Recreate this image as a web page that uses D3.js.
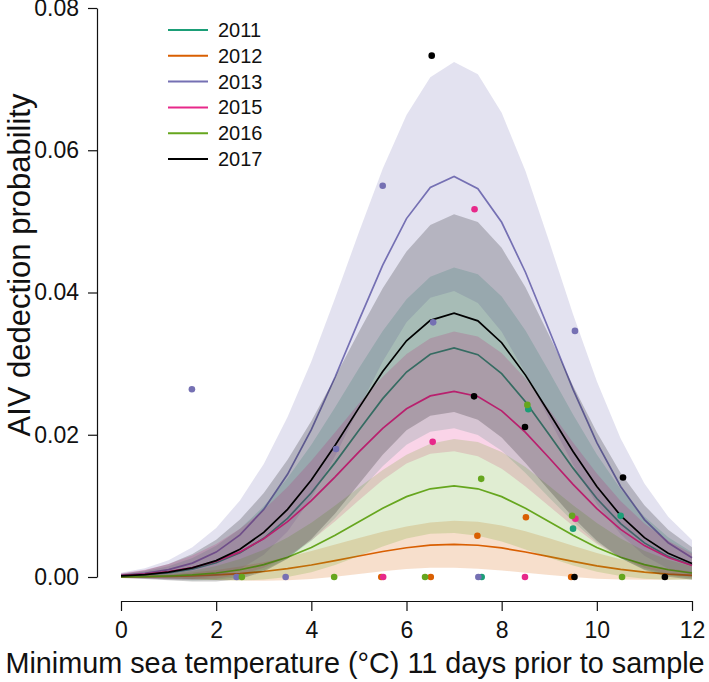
<!DOCTYPE html>
<html>
<head>
<meta charset="utf-8">
<script src="https://cdn.jsdelivr.net/npm/d3@7"></script>
<style>
  body { margin: 0; background: #fff; }
  text { font-family: "Liberation Sans", Arial, Helvetica, sans-serif; fill: #111; }
</style>
</head>
<body>
<script>
// temperature grid of the fitted curves
var temps = [0,0.5,1,1.5,2,2.5,3,3.5,4,4.5,5,5.5,6,6.5,7,7.5,8,8.5,9,9.5,10,10.5,11,11.5,12];

var years  = ["2011","2012","2013","2015","2016","2017"];
var colors = ["#1b9e77","#d95f02","#7570b3","#e7298a","#66a61e","#000000"];

// fitted probability and half width of the band, per year
var fit2011 = [0.000139,0.000295,0.000589,0.001117,0.002003,0.003394,0.005442,0.008256,0.011846,0.016081,0.02064,0.025077,0.028819,0.031318,0.0322,0.031257,0.028587,0.024636,0.020006,0.015308,0.011035,0.007496,0.004798,0.002895,0.001645];
var ci2011  = [0.000244,0.000497,0.00093,0.001568,0.00239,0.003395,0.004489,0.005651,0.006736,0.007789,0.008694,0.009506,0.010217,0.010883,0.011302,0.0113,0.010837,0.010031,0.008848,0.007522,0.006197,0.004868,0.003705,0.002693,0.001848];
var fit2012 = [0.00002,0.000042,0.000084,0.00016,0.000286,0.000485,0.000777,0.001179,0.001692,0.002297,0.002949,0.003583,0.004117,0.004474,0.0046,0.004465,0.004084,0.003519,0.002858,0.002187,0.001576,0.001071,0.000685,0.000414,0.000235];
var ci2012  = [0.000071,0.000145,0.000272,0.000458,0.000697,0.000991,0.00131,0.001649,0.001966,0.002273,0.002537,0.002774,0.002981,0.003176,0.003298,0.003297,0.003161,0.002928,0.002581,0.002195,0.001808,0.001421,0.001081,0.000787,0.000539];
var fit2013 = [0.000243,0.000515,0.00103,0.00195,0.0035,0.00593,0.00951,0.01444,0.02071,0.02812,0.03609,0.04385,0.05039,0.05476,0.0563,0.0546,0.04987,0.04285,0.03465,0.02637,0.01889,0.01273,0.00807,0.00482,0.00271];
var ci2013  = [0.000347,0.000707,0.001326,0.002231,0.003403,0.004834,0.006392,0.008053,0.009595,0.011098,0.012386,0.013544,0.014556,0.015505,0.016102,0.016085,0.015405,0.014218,0.012488,0.010559,0.008644,0.006735,0.005078,0.003653,0.00248];
var fit2015 = [0.000206,0.000402,0.000746,0.001315,0.002211,0.003531,0.005374,0.007783,0.01073,0.014078,0.017584,0.020898,0.023647,0.025463,0.0261,0.025385,0.02336,0.020327,0.01673,0.013034,0.009602,0.006692,0.004411,0.002751,0.001623];
var ci2015  = [0.000332,0.000621,0.001081,0.001694,0.002421,0.00324,0.004067,0.004887,0.005597,0.006256,0.006794,0.007267,0.00769,0.008117,0.008404,0.008419,0.008124,0.007593,0.006788,0.005876,0.004947,0.003986,0.003125,0.002347,0.001672];
var fit2016 = [0.000028,0.000065,0.000142,0.000292,0.000562,0.001019,0.001732,0.002769,0.004156,0.005862,0.007763,0.009664,0.011296,0.012403,0.0128,0.012403,0.011296,0.009664,0.007763,0.005862,0.004156,0.002769,0.001732,0.001019,0.000562];
var ci2016  = [0.000073,0.000162,0.00033,0.000603,0.000986,0.001499,0.0021,0.002786,0.003474,0.004174,0.004807,0.005386,0.005887,0.006336,0.006605,0.006592,0.006295,0.005785,0.005047,0.004235,0.003431,0.002643,0.001966,0.001393,0.000928];
var fit2017 = [0.00016,0.000339,0.000679,0.001287,0.002308,0.00391,0.00627,0.009512,0.013649,0.018528,0.023781,0.028893,0.033205,0.036083,0.0371,0.036013,0.032937,0.028385,0.02305,0.017637,0.012714,0.008637,0.005528,0.003335,0.001896];
var ci2017  = [0.0003,0.00061,0.001146,0.001931,0.002943,0.004179,0.005525,0.006956,0.008292,0.009588,0.010701,0.011702,0.012576,0.013396,0.013913,0.01391,0.01334,0.012347,0.010891,0.009259,0.007628,0.005992,0.004561,0.003314,0.002275];

// observed proportions [temperature, proportion]
var obs2011 = [[7.58,0],[8.56,0.0236],[9.5,0.0068],[10.5,0.0086]];
var obs2012 = [[5.47,0],[6.51,0],[7.49,0.0058],[8.51,0.0084],[9.46,0]];
var obs2013 = [[1.49,0.0264],[2.43,0],[3.46,0],[4.52,0.018],[5.5,0.055],[6.56,0.0358],[7.51,0],[9.54,0.0346]];
var obs2015 = [[5.51,0],[6.55,0.019],[7.43,0.0517],[8.49,0],[9.55,0.0082]];
var obs2016 = [[2.54,0],[4.48,0],[6.39,0],[7.57,0.0138],[8.54,0.0242],[9.48,0.0086],[10.53,0]];
var obs2017 = [[6.53,0.0733],[7.42,0.0254],[8.49,0.0211],[9.53,0],[10.55,0.014],[11.43,0]];

var xTicks = [0,2,4,6,8,10,12];
var yTicks = [0,0.02,0.04,0.06,0.08];

var fits = [fit2011, fit2012, fit2013, fit2015, fit2016, fit2017];
var cis  = [ci2011, ci2012, ci2013, ci2015, ci2016, ci2017];
var obs  = [obs2011, obs2012, obs2013, obs2015, obs2016, obs2017];

var width = 709, height = 682;

var svg = d3.select("body").append("svg")
    .attr("width", width)
    .attr("height", height);

var x = d3.scaleLinear().domain([0, 12]).range([121, 692]);
var y = d3.scaleLinear().domain([0, 0.08]).range([577, 8]);

var area = d3.area()
    .x(function (d) { return x(d.t); })
    .y0(function (d) { return y(d.fit - d.ci); })
    .y1(function (d) { return y(d.fit + d.ci); });

var line = d3.line()
    .x(function (d) { return x(d.t); })
    .y(function (d) { return y(d.fit); });

// band then line, year by year, so later bands tint earlier lines
years.forEach(function (yr, i) {
  var rows = temps.map(function (t, j) {
    return { t: t, fit: fits[i][j], ci: cis[i][j] };
  });
  svg.append("path")
      .datum(rows)
      .attr("d", area)
      .attr("fill", colors[i])
      .attr("fill-opacity", 0.2);
  svg.append("path")
      .datum(rows)
      .attr("d", line)
      .attr("fill", "none")
      .attr("stroke", colors[i])
      .attr("stroke-width", 1.7);
});

years.forEach(function (yr, i) {
  svg.selectAll(null)
      .data(obs[i])
      .enter()
      .append("circle")
      .attr("cx", function (d) { return x(d[0]); })
      .attr("cy", function (d) { return y(d[1]); })
      .attr("r", 3.3)
      .attr("fill", colors[i]);
});

// axes
var yAxis = svg.append("g")
    .attr("transform", "translate(97,0)")
    .call(d3.axisLeft(y).tickValues(yTicks).tickFormat(d3.format(".2f"))
      .tickSize(9).tickSizeOuter(0).tickPadding(9));

var xAxis = svg.append("g")
    .attr("transform", "translate(0,601)")
    .call(d3.axisBottom(x).tickValues(xTicks).tickFormat(d3.format("d"))
      .tickSize(10).tickSizeOuter(0).tickPadding(11));

svg.selectAll(".tick text")
    .style("font-size", "23px")
    .style("font-family", "'Liberation Sans', Arial, sans-serif")
    .attr("fill", "#111");
svg.selectAll(".domain, .tick line").attr("stroke", "#111").attr("stroke-width", 1.2);

svg.append("text")
    .attr("x", 355)
    .attr("y", 673)
    .attr("text-anchor", "middle")
    .style("font-size", "28.8px")
    .text("Minimum sea temperature (\u00B0C) 11 days prior to sample");

svg.append("text")
    .attr("transform", "translate(30,265) rotate(-90)")
    .attr("text-anchor", "middle")
    .style("font-size", "31px")
    .text("AIV dedection probability");

// legend
var legend = svg.append("g").attr("transform", "translate(168,30)");
years.forEach(function (yr, i) {
  var row = legend.append("g").attr("transform", "translate(0," + (i * 25.8) + ")");
  row.append("line")
      .attr("x1", 0).attr("x2", 40)
      .attr("stroke", colors[i])
      .attr("stroke-width", 2);
  row.append("text")
      .attr("x", 50)
      .attr("y", 7)
      .style("font-size", "20px")
      .text(yr);
});
</script>
</body>
</html>
